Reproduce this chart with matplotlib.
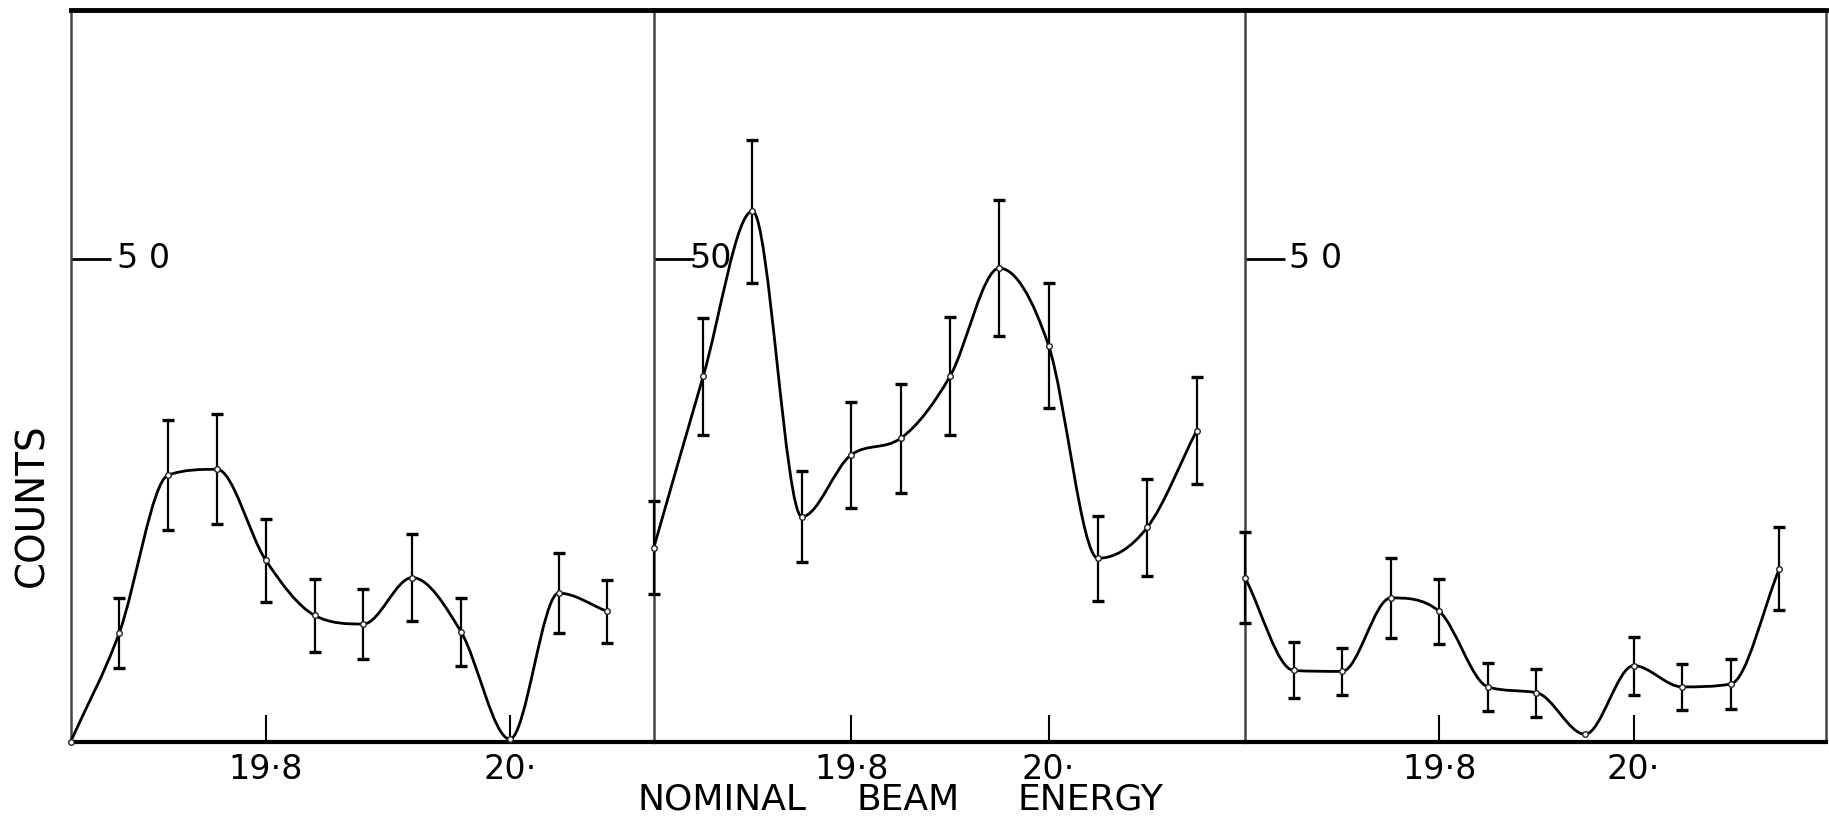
import numpy as np
import matplotlib.pyplot as plt
from matplotlib.path import Path
from matplotlib.patches import PathPatch

# three scans, counts
energy_a = [19.64, 19.68, 19.72, 19.76, 19.80, 19.84, 19.88, 19.92, 19.96, 20.00, 20.04, 20.08]
counts_a = [0, 11.3, 27.6, 28.2, 18.8, 13.1, 12.2, 17.0, 11.4, 0.3, 15.4, 13.5]
err_a = [0, 3.6, 5.7, 5.7, 4.3, 3.8, 3.6, 4.5, 3.5, 0, 4.1, 3.3]

energy_bc = [19.60, 19.65, 19.70, 19.75, 19.80, 19.85, 19.90, 19.95, 20.00, 20.05, 20.10, 20.15]
counts_b = [20.1, 37.8, 54.9, 23.3, 29.7, 31.4, 37.8, 49.0, 41.0, 19.0, 22.2, 32.2]
err_b = [4.8, 6.0, 7.4, 4.7, 5.5, 5.6, 6.1, 7.0, 6.5, 4.4, 5.0, 5.5]
counts_c = [17.0, 7.4, 7.3, 14.9, 13.5, 5.7, 5.1, 0.8, 7.9, 5.7, 6.0, 17.9]
err_c = [4.7, 2.9, 2.4, 4.1, 3.4, 2.5, 2.5, 0, 3.0, 2.4, 2.6, 4.3]

xtick_pos = [19.8, 20.0]
xtick_labels = ['19·8', '20·']
ytick_pos = 50
ytick_labels = ['5 0', '50', '5 0']


def smooth_path(x, y):
    # monotone cubic (Fritsch-Carlson) through the points, as bezier segments
    x = np.asarray(x, float)
    y = np.asarray(y, float)
    h = np.diff(x)
    d = np.diff(y) / h
    m = np.zeros_like(y)
    m[0], m[-1] = d[0], d[-1]
    for i in range(1, len(y) - 1):
        if d[i - 1] * d[i] > 0:
            m[i] = (d[i - 1] + d[i]) / 2
    for i in range(len(d)):
        if d[i] == 0:
            m[i] = m[i + 1] = 0
            continue
        a, b = m[i] / d[i], m[i + 1] / d[i]
        s = a * a + b * b
        if s > 9:
            t = 3 / np.sqrt(s)
            m[i], m[i + 1] = t * a * d[i], t * b * d[i]
    verts = [(x[0], y[0])]
    codes = [Path.MOVETO]
    for i in range(len(x) - 1):
        verts += [(x[i] + h[i] / 3, y[i] + m[i] * h[i] / 3),
                  (x[i + 1] - h[i] / 3, y[i + 1] - m[i + 1] * h[i] / 3),
                  (x[i + 1], y[i + 1])]
        codes += [Path.CURVE4] * 3
    return Path(verts, codes)


W, H = 1829, 818
fig = plt.figure(figsize=(W / 100, H / 100), dpi=100)
fig.patch.set_facecolor('white')

bottom_px, top_px = 742, 10
boxes = [(70.5, 653.8), (653.8, 1245), (1245, 1826)]
xlims = [(19.64, 20.118), (19.60, 20.199), (19.60, 20.198)]
label_x = [0.079, 0.060, 0.076]
panels = [(energy_a, counts_a, err_a), (energy_bc, counts_b, err_b), (energy_bc, counts_c, err_c)]

for k, ((l, r), (x, y, e)) in enumerate(zip(boxes, panels)):
    ax = fig.add_axes([l / W, (H - bottom_px) / H, (r - l) / W, (bottom_px - top_px) / H])
    ax.set_xlim(*xlims[k])
    ax.set_ylim(0, 75.7)

    ax.add_patch(PathPatch(smooth_path(x, y), fill=False, lw=2.0, color='black',
                           clip_on=False, zorder=3))
    x = np.array(x)
    y = np.array(y)
    e = np.array(e)
    m = e > 0
    ax.errorbar(x[m], y[m], yerr=e[m], fmt='none', ecolor='black', elinewidth=1.6,
                capsize=4, capthick=2.4, clip_on=False, zorder=4)
    ax.plot(x, y, 'o', ms=4, mfc='white', mec='#222222', mew=1, clip_on=False, zorder=5)

    for s in ['top', 'bottom', 'left', 'right']:
        ax.spines[s].set_color('black')
    ax.spines['top'].set_linewidth(3.5)
    ax.spines['bottom'].set_linewidth(3.0)
    ax.spines['left'].set_linewidth(1.8)
    ax.spines['left'].set_color('#444444')
    if k == 2:
        ax.spines['right'].set_linewidth(1.8)
        ax.spines['right'].set_color('#444444')
    else:
        ax.spines['right'].set_visible(False)

    ax.set_xticks(xtick_pos)
    ax.set_xticklabels(xtick_labels)
    ax.tick_params(axis='x', direction='in', length=19.5, width=1.5, pad=8,
                   labelsize=24, colors='black')
    ax.set_yticks([ytick_pos])
    ax.tick_params(axis='y', direction='in', length=29, width=2, labelleft=False,
                   colors='black')
    ax.text(label_x[k], ytick_pos, ytick_labels[k], transform=ax.get_yaxis_transform(),
            fontsize=24, va='center', ha='left')

fig.text(32 / W, 1 - 505 / H, 'COUNTS', rotation=90, fontsize=28, ha='center', va='center')
fig.text(722 / W, 1 - 800 / H, 'NOMINAL', fontsize=26, ha='center', va='center')
fig.text(908 / W, 1 - 800 / H, 'BEAM', fontsize=26, ha='center', va='center')
fig.text(1090 / W, 1 - 800 / H, 'ENERGY', fontsize=26, ha='center', va='center')

fig.savefig('out.png', dpi=100)
